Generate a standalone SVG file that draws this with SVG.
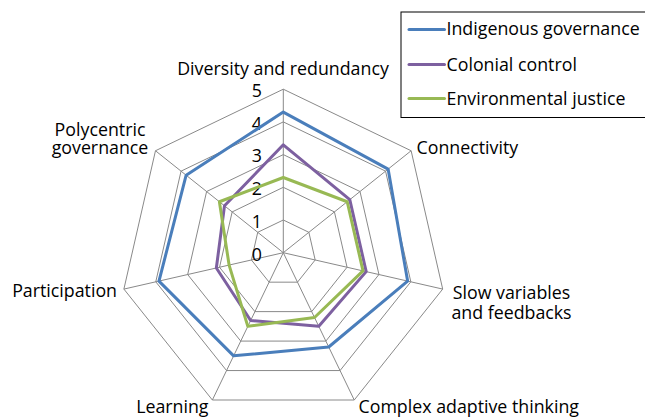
<svg xmlns="http://www.w3.org/2000/svg" width="645" height="418" viewBox="0 0 645 418">
  <style>
    .grid { fill: none; stroke: #898989; stroke-width: 1; }
    .series { fill: none; stroke-width: 3; stroke-linejoin: round; }
    .blue { stroke: #4A7EBB; }
    .purple { stroke: #7D60A0; }
    .green { stroke: #98B954; }
    text { font-family: "Open Sans", "Liberation Sans", sans-serif; font-size: 17.8px; fill: #000; }
    .tick { text-anchor: end; }
  </style>
  <rect width="645" height="418" fill="#fff"/>
  <g id="grid">
    <polygon class="grid" points="283.3,220 308.87,232.31 315.18,259.98 297.49,282.16 269.11,282.16 251.42,259.98 257.73,232.31"/>
    <polygon class="grid" points="283.3,187.3 334.43,211.92 347.06,267.25 311.68,311.62 254.92,311.62 219.54,267.25 232.17,211.92"/>
    <polygon class="grid" points="283.3,154.6 360,191.54 378.94,274.53 325.86,341.09 240.74,341.09 187.66,274.53 206.6,191.54"/>
    <polygon class="grid" points="283.3,121.9 385.56,171.15 410.82,281.81 340.05,370.55 226.55,370.55 155.78,281.81 181.04,171.15"/>
    <polygon class="grid" points="283.3,89.2 411.13,150.76 442.7,289.08 354.24,400.01 212.36,400.01 123.9,289.08 155.47,150.76"/>
    <path class="grid" d="M283.3,252.7 L283.3,89.2 M283.3,252.7 L411.13,150.76 M283.3,252.7 L442.7,289.08 M283.3,252.7 L354.24,400.01 M283.3,252.7 L212.36,400.01 M283.3,252.7 L123.9,289.08 M283.3,252.7 L155.47,150.76"/>
  </g>
  <g id="ticks">
    <text class="tick" x="262" y="260.5">0</text>
    <text class="tick" x="262" y="227.8">1</text>
    <text class="tick" x="262" y="195.1">2</text>
    <text class="tick" x="262" y="162.4">3</text>
    <text class="tick" x="262" y="129.7">4</text>
    <text class="tick" x="262" y="97">5</text>
  </g>
  <g id="series">
    <polygon id="indigenous-governance" class="series blue" points="283.3,112.09 388.12,169.11 407.63,281.08 328.7,346.98 233.64,355.82 158.97,281.08 186.15,175.23"/>
    <polygon id="colonial-control" class="series purple" points="283.3,144.79 349.77,199.69 366.19,271.62 318.77,326.35 250.67,320.46 216.35,267.98 224.5,205.81"/>
    <polygon id="environmental-justice" class="series green" points="283.3,177.49 347.21,201.73 363,270.89 314.51,317.52 247.83,326.35 229.1,265.07 219.39,201.73"/>
  </g>
  <g id="axis-labels">
    <text x="283" y="75" text-anchor="middle">Diversity and redundancy</text>
    <text x="416.5" y="153.5">Connectivity</text>
    <text text-anchor="middle"><tspan x="511.5" y="298.5">Slow variables</tspan><tspan x="511.5" y="318.8">and feedbacks</tspan></text>
    <text x="358.5" y="413">Complex adaptive thinking</text>
    <text x="208.5" y="412.5" text-anchor="end">Learning</text>
    <text x="117" y="297" text-anchor="end">Participation</text>
    <text text-anchor="middle"><tspan x="100" y="135.7">Polycentric</tspan><tspan x="100" y="154">governance</tspan></text>
  </g>
  <g id="legend">
    <rect x="401" y="12" width="260" height="105.5" fill="#fff" stroke="#000" stroke-width="1"/>
    <line class="blue" x1="409" y1="29.5" x2="444.5" y2="29.5" stroke-width="3" stroke-linecap="round"/>
    <line class="purple" x1="409" y1="64.5" x2="444.5" y2="64.5" stroke-width="3" stroke-linecap="round"/>
    <line class="green" x1="409" y1="98.5" x2="444.5" y2="98.5" stroke-width="3" stroke-linecap="round"/>
    <text x="446.5" y="35.3">Indigenous governance</text>
    <text x="446.5" y="70.5">Colonial control</text>
    <text x="446.5" y="104.6">Environmental justice</text>
  </g>
</svg>
